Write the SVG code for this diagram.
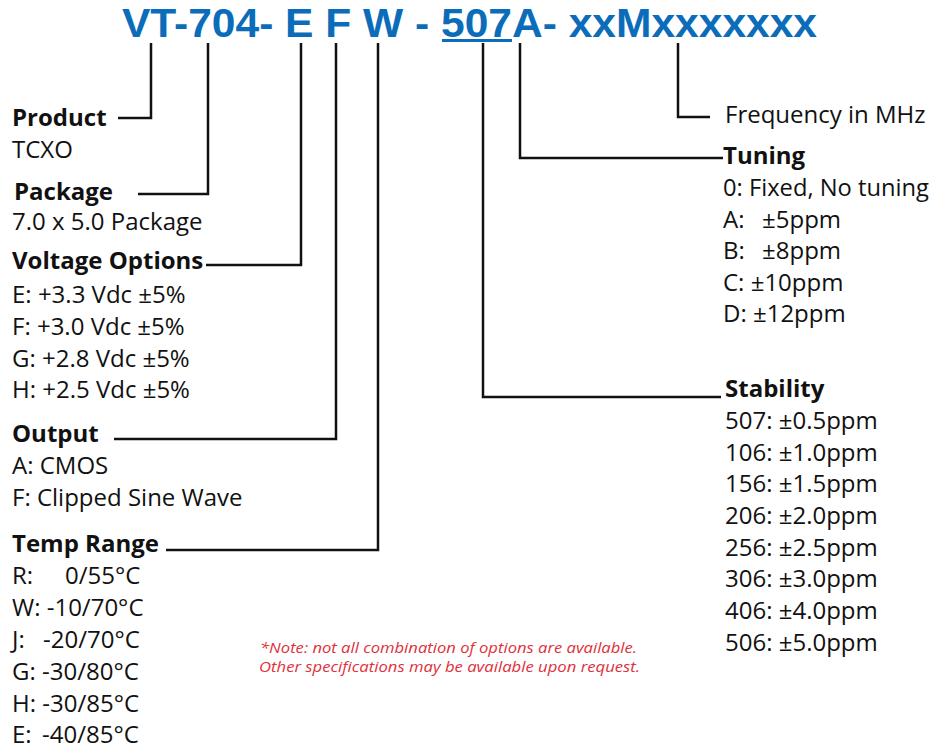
<svg xmlns="http://www.w3.org/2000/svg" width="933" height="750" viewBox="0 0 933 750">
<style>
.t{font-family:"Open Sans","Noto Sans",sans-serif;font-size:24px;fill:#111}
.b{font-weight:bold}
.title{font-family:"Liberation Sans",Arial,sans-serif;font-weight:bold;font-size:40px;fill:#0B6DBA}
.note{font-family:"Open Sans","Noto Sans",sans-serif;font-style:italic;font-size:15px;fill:#E0303A}
.c{fill:none;stroke:#111;stroke-width:2.5}
</style>
<rect width="933" height="750" fill="#fff"/>
<g id="title">
<text class="title" x="122" y="36.5" textLength="695" lengthAdjust="spacingAndGlyphs">VT-704- E F W - 507A- xxMxxxxxxx</text>
<rect x="442" y="39" width="70" height="3" fill="#0B6DBA"/>
</g>
<g id="connectors">
<path class="c" d="M151 43V118H118"/>
<path class="c" d="M208 43V194H138"/>
<path class="c" d="M301 43V265H206"/>
<path class="c" d="M336 43V439H114"/>
<path class="c" d="M378 43V550H166"/>
<path class="c" d="M483 43V397H721"/>
<path class="c" d="M520 43V158H723"/>
<path class="c" d="M678 43V117H710"/>
</g>
<g id="product">
<text class="t b" x="12" y="126">Product</text>
<text class="t" x="12" y="158">TCXO</text>
</g>
<g id="package">
<text class="t b" x="14" y="200">Package</text>
<text class="t" x="12" y="230">7.0 x 5.0 Package</text>
</g>
<g id="voltage">
<text class="t b" x="12" y="269">Voltage Options</text>
<text class="t" x="12" y="303">E: +3.3 Vdc ±5%</text>
<text class="t" x="12" y="335">F: +3.0 Vdc ±5%</text>
<text class="t" x="12" y="367">G: +2.8 Vdc ±5%</text>
<text class="t" x="12" y="398">H: +2.5 Vdc ±5%</text>
</g>
<g id="output">
<text class="t b" x="12" y="442">Output</text>
<text class="t" x="12" y="474">A: CMOS</text>
<text class="t" x="12" y="506">F: Clipped Sine Wave</text>
</g>
<g id="temp">
<text class="t b" x="12" y="552">Temp Range</text>
<text class="t" x="12" y="584">R:<tspan x="65">0/55°C</tspan></text>
<text class="t" x="12" y="616">W: -10/70°C</text>
<text class="t" x="12" y="648">J:<tspan x="43">-20/70°C</tspan></text>
<text class="t" x="12" y="680">G: -30/80°C</text>
<text class="t" x="12" y="712">H: -30/85°C</text>
<text class="t" x="12" y="743">E:<tspan x="42">-40/85°C</tspan></text>
</g>
<g id="frequency">
<text class="t" x="725" y="123">Frequency in MHz</text>
</g>
<g id="tuning">
<text class="t b" x="723" y="164">Tuning</text>
<text class="t" x="723" y="196" textLength="206" lengthAdjust="spacingAndGlyphs">0: Fixed, No tuning</text>
<text class="t" x="723" y="228">A:<tspan x="762">±5ppm</tspan></text>
<text class="t" x="723" y="259">B:<tspan x="762">±8ppm</tspan></text>
<text class="t" x="723" y="291">C: ±10ppm</text>
<text class="t" x="723" y="322">D: ±12ppm</text>
</g>
<g id="stability">
<text class="t b" x="725" y="397">Stability</text>
<text class="t" x="725" y="429">507: ±0.5ppm</text>
<text class="t" x="725" y="461">106: ±1.0ppm</text>
<text class="t" x="725" y="492">156: ±1.5ppm</text>
<text class="t" x="725" y="524">206: ±2.0ppm</text>
<text class="t" x="725" y="556">256: ±2.5ppm</text>
<text class="t" x="725" y="587">306: ±3.0ppm</text>
<text class="t" x="725" y="619">406: ±4.0ppm</text>
<text class="t" x="725" y="651">506: ±5.0ppm</text>
</g>
<g id="note">
<text class="note" x="260" y="653" textLength="377" lengthAdjust="spacingAndGlyphs">*Note: not all combination of options are available.</text>
<text class="note" x="259" y="672" textLength="381" lengthAdjust="spacingAndGlyphs">Other specifications may be available upon request.</text>
</g>
</svg>
